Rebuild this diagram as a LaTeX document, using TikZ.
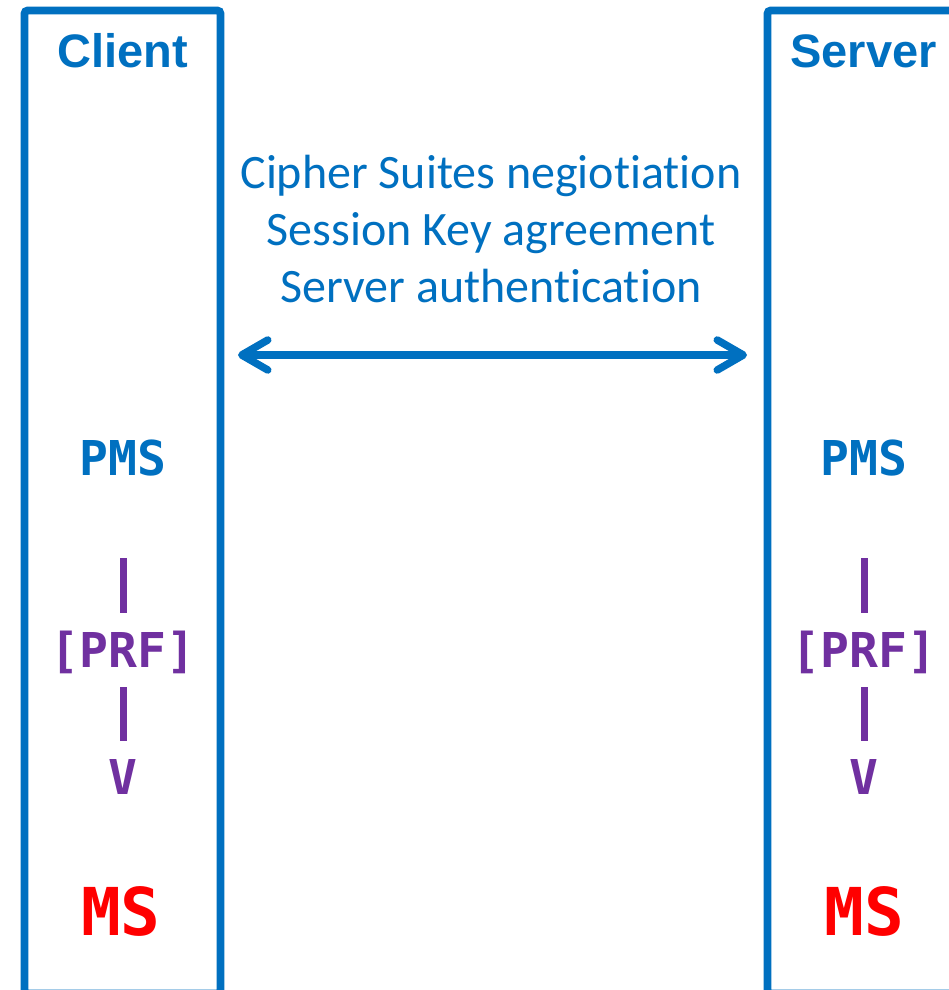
\documentclass[tikz,border=0pt]{standalone}
\usepackage{fontspec}
\usetikzlibrary{arrows.meta}
\newfontfamily\headfont{Liberation Sans}
\newfontfamily\notefont{Carlito}[RawFeature={-liga;-clig;-dlig;-calt;-rlig}]
\newfontfamily\codefont{DejaVu Sans Mono}
\definecolor{tlsblue}{HTML}{0070C0}
\definecolor{tlspurple}{HTML}{7030A0}
\definecolor{tlsred}{HTML}{FF0000}
% keep "t" and "i" as separate glyphs
\newcommand{\septi}{t\kern0pt i}
\tikzset{
  party/.style={draw=tlsblue, line width=7.6pt, rounded corners=3pt, inner sep=0pt},
  head/.style={anchor=base, inner sep=0pt, text=tlsblue, font=\headfont\bfseries\fontsize{47}{56}\selectfont},
  note/.style={anchor=base, inner sep=0pt, text=tlsblue, font=\notefont\fontsize{48}{57}\selectfont},
  secret/.style={anchor=base, inner sep=0pt, text=tlsblue, font=\codefont\bfseries\fontsize{48}{56}\selectfont},
  prf/.style={anchor=base, inner sep=0pt, text=tlspurple, font=\codefont\bfseries\fontsize{48}{56}\selectfont},
  master/.style={anchor=base, inner sep=0pt, text=tlsred, font=\codefont\bfseries\fontsize{66}{76}\selectfont},
  pbar/.style={draw=tlspurple, line width=7pt},
  exchange/.style={draw=tlsblue, line width=7.5pt, {Straight Barb[length=26pt,width=30pt,round]}-{Straight Barb[length=26pt,width=30pt,round]}},
}
\begin{document}
\begin{tikzpicture}[x=1pt, y=-1pt]
  \clip (0,0) rectangle (949,990);
  \fill[white] (0,0) rectangle (949,990);

  % the two parties
  \node[party, minimum width=196pt, minimum height=983pt] (client) at (122.5,502) {};
  \node[party, minimum width=242.5pt, minimum height=983pt] (server) at (888.75,502) {};
  \node[head] (clientname) at (122.5,67) {Client};
  \node[head] (servername) at (863.5,67) {Server};

  % handshake summary
  \node[note] (n1) at (491,188) {Cipher Suites negio\septi a\septi on};
  \node[note] (n2) at (491,245) {Session Key agreement};
  \node[note] (n3) at (491,302) {Server authen\septi ca\septi on};

  \coordinate (hsl) at (238,355);
  \coordinate (hsr) at (747,355);
  \draw[exchange] (hsl) -- (hsr);

  % client-side key derivation
  \node[secret] (cpms) at (123,475) {PMS};
  \coordinate (cb1a) at (123,558);
  \coordinate (cb1b) at (123,613);
  \draw[pbar] (cb1a) -- (cb1b);
  \node[prf] (cprf) at (123,667) {[PRF]};
  \coordinate (cb2a) at (123,687);
  \coordinate (cb2b) at (123,741);
  \draw[pbar] (cb2a) -- (cb2b);
  \node[prf] (cv) at (123,794) {V};
  \node[master] (cms) at (121,935) {MS};

  % server-side key derivation
  \node[secret] (spms) at (864,475) {PMS};
  \coordinate (sb1a) at (864,558);
  \coordinate (sb1b) at (864,613);
  \draw[pbar] (sb1a) -- (sb1b);
  \node[prf] (sprf) at (864,667) {[PRF]};
  \coordinate (sb2a) at (864,687);
  \coordinate (sb2b) at (864,741);
  \draw[pbar] (sb2a) -- (sb2b);
  \node[prf] (sv) at (864,794) {V};
  \node[master] (sms) at (864,935) {MS};
\end{tikzpicture}
\end{document}
